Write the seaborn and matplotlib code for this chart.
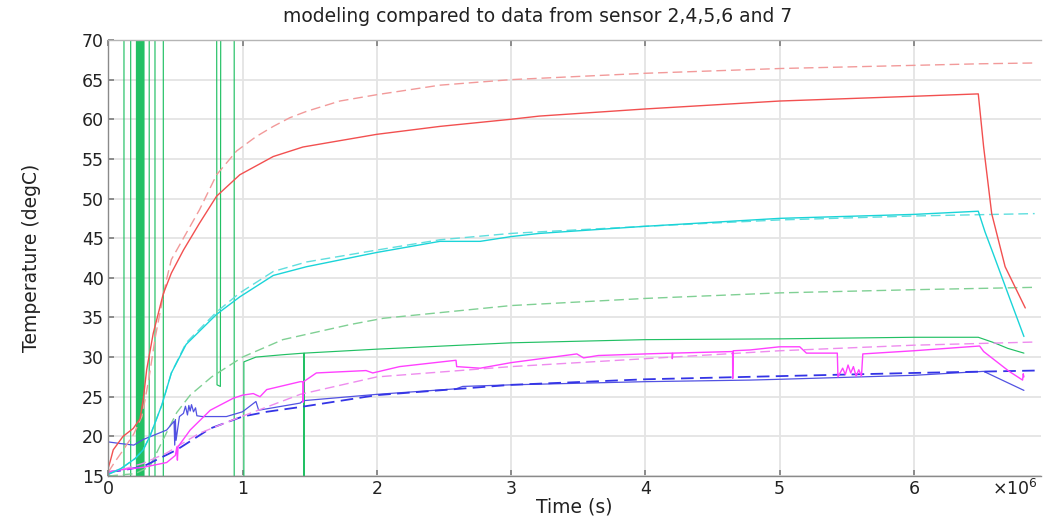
import numpy as np
import pandas as pd
import matplotlib
matplotlib.use("Agg")
import matplotlib.pyplot as plt
import seaborn as sns

# ---------------- data (time in units of 1e6 s, temperature in degC) ----------------
t_red_model = [0, 0.05, 0.1, 0.19, 0.25, 0.3, 0.35, 0.43, 0.47, 0.56, 0.68, 0.807, 0.956, 1.1,
               1.229, 1.353, 1.477, 1.725, 2.0, 2.47, 3.0, 3.5, 4.0, 4.5, 5.0, 5.5, 6.0, 6.5, 6.9]
T_red_model = [15.5, 16.8, 18.0, 20.3, 22.5, 27.0, 32.5, 39.5, 42.3, 45.0, 48.6, 53.0, 56.0, 57.8,
               59.1, 60.2, 61.0, 62.3, 63.1, 64.3, 65.0, 65.4, 65.8, 66.1, 66.4, 66.6, 66.8, 67.0, 67.1]

t_red_data = [0, 0.02, 0.037, 0.11, 0.186, 0.236, 0.26, 0.286, 0.335, 0.41, 0.47, 0.56, 0.68, 0.807,
              0.98, 1.229, 1.45, 2.0, 2.47, 3.0, 3.21, 4.0, 5.0, 5.5, 6.0, 6.48, 6.52, 6.58, 6.68, 6.83]
T_red_data = [16.0, 17.2, 18.3, 20.0, 21.0, 22.2, 24.6, 28.4, 33.0, 38.0, 40.6, 43.5, 46.9, 50.3,
              53.0, 55.3, 56.5, 58.1, 59.1, 60.0, 60.4, 61.3, 62.3, 62.6, 62.9, 63.2, 56.5, 48.1, 41.4, 36.2]

t_cyan_model = [0, 0.1, 0.2, 0.26, 0.31, 0.4, 0.47, 0.58, 0.807, 0.98, 1.229, 1.477, 2.0, 2.47,
                3.0, 3.21, 4.0, 5.0, 6.0, 6.9]
T_cyan_model = [15.2, 16.0, 17.2, 18.3, 20.0, 24.0, 28.0, 31.8, 35.7, 38.1, 40.8, 42.0, 43.5, 44.8,
                45.6, 45.8, 46.5, 47.3, 47.8, 48.1]

t_cyan_data = [0, 0.1, 0.2, 0.26, 0.31, 0.4, 0.47, 0.58, 0.807, 0.98, 1.229, 1.477, 2.0, 2.47,
               2.77, 3.0, 3.21, 4.0, 5.0, 6.0, 6.48, 6.53, 6.59, 6.71, 6.82]
T_cyan_data = [15.2, 16.0, 17.2, 18.3, 20.0, 24.0, 28.0, 31.6, 35.4, 37.6, 40.3, 41.4, 43.2, 44.6,
               44.6, 45.2, 45.6, 46.5, 47.5, 48.0, 48.4, 45.8, 43.1, 37.6, 32.6]

t_green_model = [0, 0.2, 0.31, 0.435, 0.51, 0.61, 0.77, 1.0, 1.3, 1.8, 2.05, 3.0, 4.0, 5.0, 6.0, 6.9]
T_green_model = [15.0, 15.3, 16.2, 20.5, 23.0, 25.2, 27.5, 30.0, 32.2, 34.1, 34.9, 36.5, 37.4, 38.1,
                 38.5, 38.8]

t_green_data = [0.0, 0.0, 0.117, 0.117, 0.167, 0.167, 0.21, 0.21, 0.218, 0.218, 0.225, 0.225,
                0.232, 0.232, 0.239, 0.239, 0.246, 0.246, 0.252, 0.252, 0.259, 0.259, 0.266, 0.266,
                0.305, 0.305, 0.348, 0.348, 0.41, 0.41, 0.807, 0.81, 0.835, 0.838, 0.938, 0.938,
                1.01, 1.01, 1.1, 1.3, 1.457, 1.457, 1.46, 2.0, 3.0, 4.0, 5.0, 6.0, 6.48, 6.6, 6.7, 6.82]
T_green_data = [5, 80, 80, 5, 5, 80, 80, 5, 5, 80, 80, 5,
                5, 80, 80, 5, 5, 80, 80, 5, 5, 80, 80, 5,
                5, 80, 80, 5, 5, 80, 80, 26.5, 26.3, 80, 80, 5,
                5, 29.4, 30.0, 30.3, 30.5, 5, 30.5, 31.0, 31.8, 32.2, 32.3, 32.5, 32.5, 31.8, 31.1, 30.5]

t_magenta_model = [0, 0.1, 0.26, 0.435, 0.56, 0.68, 0.93, 1.18, 1.43, 2.0, 3.0, 4.0, 5.0, 6.0, 6.9]
T_magenta_model = [15.5, 15.8, 16.6, 17.9, 19.2, 20.4, 22.1, 23.7, 25.3, 27.5, 28.8, 29.8, 30.8,
                   31.5, 31.9]

t_magenta_data = [0, 0.1, 0.26, 0.435, 0.5, 0.51, 0.515, 0.52, 0.61, 0.76, 0.93, 1.0, 1.08, 1.13,
                  1.18, 1.43, 1.45, 1.452, 1.455, 1.55, 1.92, 1.97, 2.17, 2.59, 2.595, 2.77, 3.0,
                  3.49, 3.54, 3.65, 4.0, 4.2, 4.201, 4.205, 4.65, 4.651, 4.655, 4.78, 5.0, 5.15,
                  5.2, 5.43, 5.435, 5.47, 5.49, 5.51, 5.53, 5.55, 5.57, 5.59, 5.61, 5.62, 6.0,
                  6.49, 6.52, 6.71, 6.81, 6.815, 6.82]
T_magenta_data = [15.5, 15.8, 16.1, 16.7, 17.6, 18.6, 17.0, 18.7, 20.8, 23.3, 24.8, 25.2, 25.4, 25.0,
                  25.9, 26.9, 26.9, 24.3, 26.9, 28.0, 28.3, 28.0, 28.8, 29.6, 28.8, 28.6, 29.3,
                  30.4, 29.9, 30.2, 30.4, 30.5, 29.8, 30.5, 30.7, 27.3, 30.8, 30.9, 31.3, 31.3,
                  30.5, 30.5, 27.5, 28.6, 27.8, 29.0, 28.0, 28.8, 27.6, 28.4, 27.6, 30.4, 30.8,
                  31.4, 30.7, 28.2, 27.1, 27.9, 27.5]

t_blue_model = [0, 0.1, 0.26, 0.51, 0.76, 1.0, 1.18, 1.43, 2.0, 3.0, 4.0, 5.0, 6.0, 6.9]
T_blue_model = [15.5, 15.7, 16.2, 18.3, 21.0, 22.5, 23.1, 23.7, 25.2, 26.5, 27.2, 27.6, 28.0, 28.3]

t_blue_data = [0, 0.087, 0.19, 0.26, 0.435, 0.49, 0.495, 0.5, 0.505, 0.53, 0.56, 0.575, 0.59, 0.6,
               0.61, 0.62, 0.635, 0.65, 0.66, 0.7, 0.88, 1.0, 1.1, 1.12, 1.43, 1.45, 2.0, 2.59,
               2.64, 3.0, 4.0, 4.78, 5.0, 6.0, 6.52, 6.82]
T_blue_data = [19.3, 19.1, 18.9, 19.6, 20.8, 21.9, 18.9, 22.1, 19.5, 22.5, 22.9, 23.8, 22.7, 23.9,
               23.2, 24.0, 23.1, 23.6, 22.6, 22.5, 22.5, 23.1, 24.4, 23.3, 24.2, 24.5, 25.3, 26.0,
               26.3, 26.5, 26.9, 27.1, 27.2, 27.7, 28.2, 25.8]

x_ticks = [0, 1, 2, 3, 4, 5, 6]
y_ticks = [15, 20, 25, 30, 35, 40, 45, 50, 55, 60, 65, 70]
title = "modeling compared to data from sensor 2,4,5,6 and 7"
SCALE = 1e6

# ---------------- plotting ----------------
sns.set_theme(style="whitegrid")
plt.rcParams["font.family"] = ["DejaVu Sans"]

fig = plt.figure(figsize=(10.43, 5.2), dpi=100)
ax = fig.add_axes([0.1038, 0.0846, 0.894, 0.8385])

series = [
    (t_green_data, T_green_data, "#22c064", "-", 0.85),
    (t_green_model, T_green_model, "#80d094", "--", 1.0),
    (t_blue_data, T_blue_data, "#5252e2", "-", 0.9),
    (t_blue_model, T_blue_model, "#3434e6", "--", 1.3),
    (t_magenta_model, T_magenta_model, "#ee8cee", "--", 1.0),
    (t_magenta_data, T_magenta_data, "#ff40ff", "-", 1.0),
    (t_cyan_model, T_cyan_model, "#5fdede", "--", 1.0),
    (t_cyan_data, T_cyan_data, "#1ad4d8", "-", 1.0),
    (t_red_model, T_red_model, "#f29a9a", "--", 1.0),
    (t_red_data, T_red_data, "#f25050", "-", 1.0),
]

for t, T, color, ls, lw in series:
    df = pd.DataFrame({"t": np.array(t) * SCALE, "T": T})
    sns.lineplot(data=df, x="t", y="T", ax=ax, estimator=None, sort=False,
                 color=color, linewidth=lw, legend=False)
    ln = ax.get_lines()[-1]
    if ls == "--":
        ln.set_linestyle((0, (7, 3.5)))

ax.set_xlim(0, 6.945e6)
ax.set_ylim(15, 70)
ax.set_xticks(np.array(x_ticks) * SCALE)
ax.set_xticklabels([str(v) for v in x_ticks])
ax.set_yticks(y_ticks)
ax.set_yticklabels([str(v) for v in y_ticks])
ax.tick_params(axis="both", labelsize=12.5, direction="in", length=4, color="#808080",
               colors="#222222", pad=3)
ax.tick_params(axis="x", top=True, bottom=True)
ax.tick_params(axis="y", left=True)

ax.grid(True, color="#e4e4e4", linewidth=1.3)
ax.set_axisbelow(True)
for side, sp in ax.spines.items():
    sp.set_linewidth(1.0)
ax.spines["right"].set_visible(False)
ax.spines["top"].set_color("#b5b5b5")
ax.spines["bottom"].set_color("#8a8a8a")
ax.spines["left"].set_color("#8a8a8a")

ax.set_xlabel("Time (s)", fontsize=13.5, color="#222222")
ax.set_ylabel("Temperature (degC)", fontsize=13.5, color="#222222")
ax.xaxis.set_label_coords(0.5, -0.05)
ax.yaxis.set_label_coords(-0.072, 0.5)

fig.text(992 / 1043, 1 - 489 / 520, r"$\times10^{6}$", fontsize=12.5, ha="left", va="center",
         color="#222222")
fig.text(0.515, 1 - 16 / 520, title, fontsize=13.5, ha="center", va="center", color="#222222")

fig.savefig("out.png", dpi=100)
